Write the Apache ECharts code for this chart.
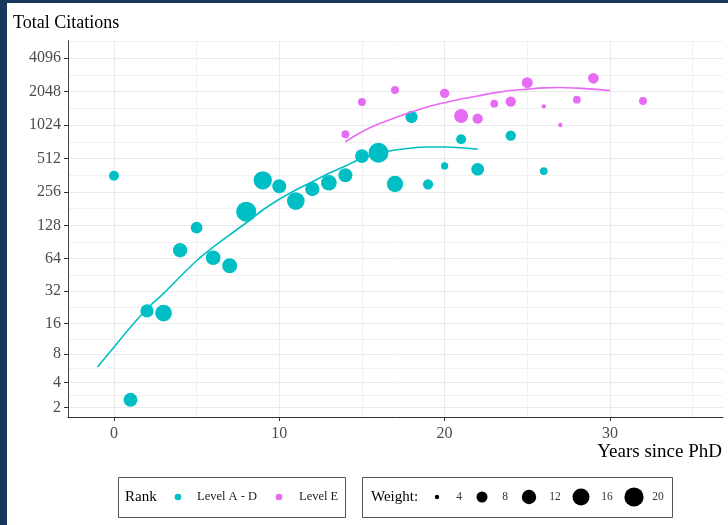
<!DOCTYPE html>
<html>
<head>
<meta charset="utf-8">
<script src="https://cdn.jsdelivr.net/npm/echarts@6/dist/echarts.min.js"></script>
<style>
  html, body { margin: 0; padding: 0; background: #fff; }
  #chart { width: 728px; height: 525px; }
</style>
</head>
<body>
<div id="chart"></div>
<script>
// ---- Data ----
const yearsA     = [0, 1, 2, 3, 4, 5, 6, 7, 8, 9, 10, 11, 12, 13, 14, 15, 16, 17, 18, 19, 20, 21, 22, 24, 26];
const citationsA = [358, 2.5, 21, 20, 76, 122, 65, 55, 170, 326, 288, 212, 272, 310, 362, 539, 577, 302, 1209, 300, 439, 762, 410, 821, 395];
const weightA    = [7, 11.4, 10.5, 15.4, 11.9, 8.7, 12.4, 12.8, 21.5, 18.2, 11.4, 17.1, 11.9, 13.9, 11.4, 11.1, 21.5, 14.8, 9.4, 7.3, 5.1, 7.0, 9.8, 7.3, 5.4];

const yearsE     = [14, 15, 17, 20, 21, 22, 23, 24, 25, 26, 27, 28, 29, 32];
const citationsE = [845, 1649, 2112, 1973, 1235, 1168, 1592, 1660, 2457, 1508, 1024, 1729, 2691, 1683];
const weightE    = [5.5, 5.5, 5.5, 6.5, 11.4, 7.3, 5.4, 7.3, 8.0, 4.0, 4.0, 5.4, 7.7, 5.5];

// smoothed trend lines
const fitYearsA     = [-1, 0, 1, 2, 3, 4, 5, 6, 7, 8, 9, 10, 11, 12, 13, 14, 15, 16, 17, 18, 19, 20, 21, 22];
const fitCitationsA = [5.9, 9.4, 14.7, 22, 30.6, 43.6, 61, 81, 105, 135, 176, 220, 267, 317, 377, 439, 515, 568, 610, 637, 650, 650, 640, 622];
const fitYearsE     = [14, 15, 16, 17, 18, 19, 20, 21, 22, 23, 24, 25, 26, 27, 28, 29, 30];
const fitCitationsE = [725, 891, 1046, 1192, 1341, 1495, 1625, 1754, 1867, 1990, 2090, 2150, 2210, 2225, 2195, 2150, 2090];

const yTickLabels   = [2, 4, 8, 16, 32, 64, 128, 256, 512, 1024, 2048, 4096];
const xTickLabels   = [0, 10, 20, 30];
const xMinorTicks   = [5, 15, 25, 35];
const weightBreaks  = [4, 8, 12, 16, 20];
const rankLabels    = ['Level A - D', 'Level E'];

// ---- Styling / scales ----
const TEAL = '#00BFC4', PINK = '#E76BF3', NAVY = '#18375C';
const FONT = '"Liberation Serif", "Times New Roman", serif';
const tr = v => Math.log2(v + 1);              // log2(1 + x) scale
const inv = t => Math.pow(2, t) - 1;
const sizeOf = w => 2.5 + 17.5 * Math.sqrt(Math.max(0, (w - 3.8) / 17.7));

const Y_MIN = 1.296, Y_MAX = 12.516, X_MIN = -2.78, X_MAX = 36.84;
const yMajor = yTickLabels.map(tr);
const yMinor = [];
for (let i = 0; i < yMajor.length - 1; i++) yMinor.push((yMajor[i] + yMajor[i + 1]) / 2);
const topMinor = yMajor[yMajor.length - 1] + 0.5;
if (topMinor <= Y_MAX) yMinor.push(topMinor);

const ptsA = yearsA.map((x, i) => [x, tr(citationsA[i]), weightA[i]]);
const ptsE = yearsE.map((x, i) => [x, tr(citationsE[i]), weightE[i]]);
const fitA = fitYearsA.map((x, i) => [x, tr(fitCitationsA[i])]);
const fitE = fitYearsE.map((x, i) => [x, tr(fitCitationsE[i])]);

// ---- Legends (drawn as graphics, boxed like the reference) ----
const legendY = 497;
const graphics = [
  { type: 'rect', shape: { x: 0, y: 0, width: 7, height: 525 }, style: { fill: NAVY }, z: 100 },
  { type: 'rect', shape: { x: 0, y: 0, width: 728, height: 3 }, style: { fill: NAVY }, z: 100 },
  { type: 'rect', shape: { x: 118.5, y: 477.5, width: 227, height: 40 }, style: { fill: '#fff', stroke: '#555', lineWidth: 1 } },
  { type: 'text', x: 125, y: legendY, style: { text: 'Rank', fontFamily: FONT, fontSize: 15, fill: '#000', verticalAlign: 'middle' } },
  { type: 'rect', shape: { x: 362.5, y: 477.5, width: 310, height: 40 }, style: { fill: '#fff', stroke: '#555', lineWidth: 1 } },
  { type: 'text', x: 371, y: legendY, style: { text: 'Weight:', fontFamily: FONT, fontSize: 15, fill: '#000', verticalAlign: 'middle' } }
];
const rankKeyX = [178, 279], rankTextX = [197, 299], rankColors = [TEAL, PINK];
rankLabels.forEach((lab, i) => {
  graphics.push({ type: 'circle', shape: { cx: rankKeyX[i], cy: legendY, r: 3.3 }, style: { fill: rankColors[i] } });
  graphics.push({ type: 'text', x: rankTextX[i], y: legendY, style: { text: lab, fontFamily: FONT, fontSize: 12.5, fill: '#222', verticalAlign: 'middle' } });
});
const wKeyX = [437, 482, 529, 581, 634], wTextX = [459, 505, 555, 607, 658];
weightBreaks.forEach((w, i) => {
  graphics.push({ type: 'circle', shape: { cx: wKeyX[i], cy: legendY, r: sizeOf(w) / 2 }, style: { fill: '#000' } });
  graphics.push({ type: 'text', x: wTextX[i], y: legendY, style: { text: String(w), fontFamily: FONT, fontSize: 11.5, fill: '#333', align: 'center', verticalAlign: 'middle' } });
});

const chart = echarts.init(document.getElementById('chart'), null, { renderer: 'canvas' });
chart.setOption({
  animation: false,
  backgroundColor: '#fff',
  title: [
    { text: 'Total Citations', left: 13, top: 14, padding: 0,
      textStyle: { fontFamily: FONT, fontSize: 18, fontWeight: 'normal', color: '#000' } },
    { text: 'Years since PhD', right: 6, top: 443, padding: 0,
      textStyle: { fontFamily: FONT, fontSize: 19, fontWeight: 'normal', color: '#000' } }
  ],
  grid: { left: 68, right: 5, top: 40.7, bottom: 108, containLabel: false },
  xAxis: [
    { type: 'value', min: X_MIN, max: X_MAX, gridIndex: 0,
      axisLine: { show: true, onZero: false, lineStyle: { color: '#333', width: 1 } },
      axisTick: { show: true, length: 4, customValues: xTickLabels, lineStyle: { color: '#333' } },
      axisLabel: { customValues: xTickLabels, margin: 9, fontFamily: FONT, fontSize: 16, color: '#4D4D4D' },
      splitLine: { show: true, lineStyle: { color: '#EAEAEA', width: 1 } } },
    { type: 'value', min: X_MIN, max: X_MAX, gridIndex: 0, position: 'bottom',
      axisLine: { show: false }, axisTick: { show: false, customValues: xMinorTicks },
      axisLabel: { show: false, customValues: xMinorTicks },
      splitLine: { show: true, lineStyle: { color: '#F1F1F1', width: 1 } } }
  ],
  yAxis: [
    { type: 'value', min: Y_MIN, max: Y_MAX, gridIndex: 0,
      axisLine: { show: true, onZero: false, lineStyle: { color: '#444', width: 1 } },
      axisTick: { show: true, length: 4, customValues: yMajor, lineStyle: { color: '#333' } },
      axisLabel: { customValues: yMajor, margin: 7, fontFamily: FONT, fontSize: 16, color: '#4D4D4D',
                   formatter: v => String(Math.round(inv(v))) },
      splitLine: { show: true, lineStyle: { color: '#EAEAEA', width: 1 } } },
    { type: 'value', min: Y_MIN, max: Y_MAX, gridIndex: 0, position: 'left',
      axisLine: { show: false }, axisTick: { show: false, customValues: yMinor },
      axisLabel: { show: false, customValues: yMinor },
      splitLine: { show: true, lineStyle: { color: '#F1F1F1', width: 1 } } }
  ],
  series: [
    { name: rankLabels[0], type: 'scatter', data: ptsA, symbol: 'circle',
      symbolSize: d => sizeOf(d[2]), itemStyle: { color: TEAL, opacity: 1 }, z: 3 },
    { name: rankLabels[1], type: 'scatter', data: ptsE, symbol: 'circle',
      symbolSize: d => sizeOf(d[2]), itemStyle: { color: PINK, opacity: 1 }, z: 3 },
    { name: rankLabels[0] + ' fit', type: 'line', data: fitA, showSymbol: false, smooth: 0.3,
      lineStyle: { color: TEAL, width: 1.6 }, z: 4 },
    { name: rankLabels[1] + ' fit', type: 'line', data: fitE, showSymbol: false, smooth: 0.3,
      lineStyle: { color: PINK, width: 1.6 }, z: 4 }
  ],
  graphic: graphics
});
</script>
</body>
</html>
